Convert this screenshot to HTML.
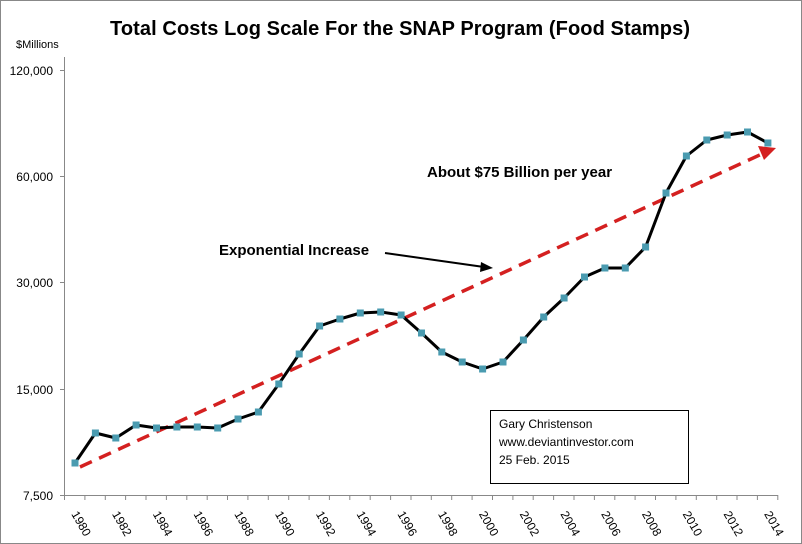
<!DOCTYPE html>
<html><head><style>
body{margin:0;background:#fff;}
svg{display:block;font-family:"Liberation Sans","DejaVu Sans",sans-serif;}
</style></head><body>
<svg width="802" height="544" viewBox="0 0 802 544">
<rect x="0.5" y="0.5" width="801" height="543" fill="#fff" stroke="#888"/>
<text x="400" y="35" font-size="20" font-weight="bold" text-anchor="middle" textLength="580">Total Costs Log Scale For the SNAP Program (Food Stamps)</text>
<text x="16" y="48" font-size="11">$Millions</text>
<g stroke="#888" stroke-width="1" fill="none">
<line x1="64.5" y1="57" x2="64.5" y2="495"/>
<path d="M60 70.5H65M60 176.5H65M60 282.5H65M60 389.5H65M60 495.5H778"/>
<path d="M64.5 495V500M84.9 495V500M105.3 495V500M125.6 495V500M146 495V500M166.4 495V500M186.8 495V500M207.2 495V500M227.5 495V500M247.9 495V500M268.3 495V500M288.7 495V500M309.1 495V500M329.4 495V500M349.8 495V500M370.2 495V500M390.6 495V500M411 495V500M431.3 495V500M451.7 495V500M472.1 495V500M492.5 495V500M512.9 495V500M533.2 495V500M553.6 495V500M574 495V500M594.4 495V500M614.8 495V500M635.1 495V500M655.5 495V500M675.9 495V500M696.3 495V500M716.7 495V500M737 495V500M757.4 495V500M777.8 495V500"/>
</g>
<g font-size="12" text-anchor="end" fill="#000">
<text x="53" y="75">120,000</text>
<text x="53" y="181">60,000</text>
<text x="53" y="287">30,000</text>
<text x="53" y="394">15,000</text>
<text x="53" y="500">7,500</text>
</g>
<g font-size="12">
<text transform="translate(71,514) rotate(60)">1980</text>
<text transform="translate(111.8,514) rotate(60)">1982</text>
<text transform="translate(152.5,514) rotate(60)">1984</text>
<text transform="translate(193.3,514) rotate(60)">1986</text>
<text transform="translate(234,514) rotate(60)">1988</text>
<text transform="translate(274.8,514) rotate(60)">1990</text>
<text transform="translate(315.6,514) rotate(60)">1992</text>
<text transform="translate(356.3,514) rotate(60)">1994</text>
<text transform="translate(397.1,514) rotate(60)">1996</text>
<text transform="translate(437.8,514) rotate(60)">1998</text>
<text transform="translate(478.6,514) rotate(60)">2000</text>
<text transform="translate(519.4,514) rotate(60)">2002</text>
<text transform="translate(560.1,514) rotate(60)">2004</text>
<text transform="translate(600.9,514) rotate(60)">2006</text>
<text transform="translate(641.6,514) rotate(60)">2008</text>
<text transform="translate(682.4,514) rotate(60)">2010</text>
<text transform="translate(723.2,514) rotate(60)">2012</text>
<text transform="translate(763.9,514) rotate(60)">2014</text>
</g>
<line x1="80" y1="467" x2="764" y2="153" stroke="#d42020" stroke-width="3.5" stroke-dasharray="13,8"/>
<polygon points="776,148 758,146 764,160" fill="#d42020"/>
<polyline fill="none" stroke="#000" stroke-width="3" stroke-linejoin="round" points="75,463 95.4,433 115.8,438 136.1,425 156.5,428 176.9,427 197.3,427 217.7,428 238,419 258.4,412 278.8,384 299.2,354 319.6,326 339.9,319 360.3,313 380.7,312 401.1,315 421.5,333 441.8,352 462.2,362 482.6,369 503,362 523.4,340 543.7,317 564.1,298 584.5,277 604.9,268 625.3,268 645.6,247 666,193 686.4,156 706.8,140 727.2,135 747.5,132 767.9,143"/>
<g fill="#4a9bb0">
<rect x="71.5" y="459.5" width="7" height="7"/><rect x="91.9" y="429.5" width="7" height="7"/><rect x="112.3" y="434.5" width="7" height="7"/><rect x="132.6" y="421.5" width="7" height="7"/><rect x="153" y="424.5" width="7" height="7"/><rect x="173.4" y="423.5" width="7" height="7"/><rect x="193.8" y="423.5" width="7" height="7"/><rect x="214.2" y="424.5" width="7" height="7"/><rect x="234.5" y="415.5" width="7" height="7"/><rect x="254.9" y="408.5" width="7" height="7"/><rect x="275.3" y="380.5" width="7" height="7"/><rect x="295.7" y="350.5" width="7" height="7"/><rect x="316.1" y="322.5" width="7" height="7"/><rect x="336.4" y="315.5" width="7" height="7"/><rect x="356.8" y="309.5" width="7" height="7"/><rect x="377.2" y="308.5" width="7" height="7"/><rect x="397.6" y="311.5" width="7" height="7"/><rect x="418" y="329.5" width="7" height="7"/><rect x="438.3" y="348.5" width="7" height="7"/><rect x="458.7" y="358.5" width="7" height="7"/><rect x="479.1" y="365.5" width="7" height="7"/><rect x="499.5" y="358.5" width="7" height="7"/><rect x="519.9" y="336.5" width="7" height="7"/><rect x="540.2" y="313.5" width="7" height="7"/><rect x="560.6" y="294.5" width="7" height="7"/><rect x="581" y="273.5" width="7" height="7"/><rect x="601.4" y="264.5" width="7" height="7"/><rect x="621.8" y="264.5" width="7" height="7"/><rect x="642.1" y="243.5" width="7" height="7"/><rect x="662.5" y="189.5" width="7" height="7"/><rect x="682.9" y="152.5" width="7" height="7"/><rect x="703.3" y="136.5" width="7" height="7"/><rect x="723.7" y="131.5" width="7" height="7"/><rect x="744" y="128.5" width="7" height="7"/><rect x="764.4" y="139.5" width="7" height="7"/>
</g>
<text x="427" y="177" font-size="15" font-weight="bold">About $75 Billion per year</text>
<text x="219" y="255" font-size="15" font-weight="bold">Exponential Increase</text>
<line x1="385" y1="253" x2="484" y2="267" stroke="#000" stroke-width="2"/>
<polygon points="493,268 481,262 480,272" fill="#000"/>
<rect x="490.5" y="410.5" width="198" height="73" fill="#fff" stroke="#000"/>
<g font-size="12"><text x="499" y="428">Gary Christenson</text><text x="499" y="446">www.deviantinvestor.com</text><text x="499" y="464">25 Feb. 2015</text></g>
</svg>
</body></html>
